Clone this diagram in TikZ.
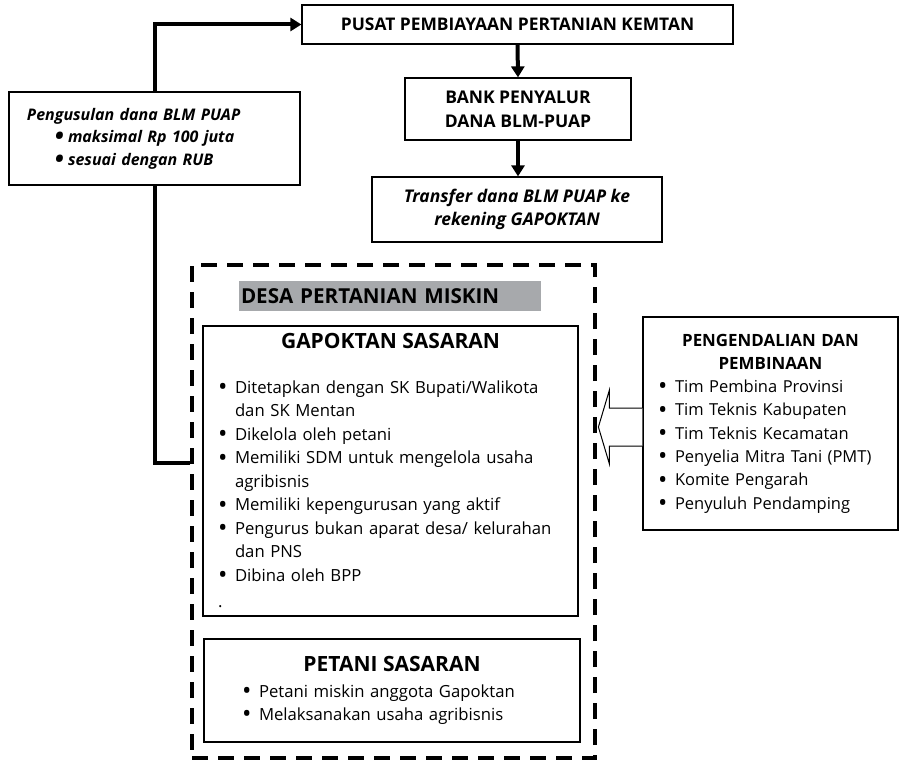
\documentclass[tikz,border=0pt]{standalone}
\usepackage{fontspec}
\setmainfont{Open Sans}
\usetikzlibrary{arrows.meta, positioning, calc, backgrounds}
\definecolor{bandgray}{HTML}{A7A9AC}
\tikzset{
  box/.style={rectangle, draw=black, line width=1.2pt, fill=white, inner ysep=0pt},
  listbox/.style={box, align=left, font=\fontsize{16.7}{23.5}\selectfont},
  thickarrow/.style={line width=4pt, -{Triangle[length=11pt,width=13pt]}},
  dashframe/.style={rectangle, draw=black, line width=4pt, dash pattern=on 16pt off 10pt},
  hollowarrow/.style={draw=black, line width=1pt, fill=white}
}
\newcommand{\dotmark}{\raisebox{-0.13em}{\scalebox{1.5}{\textbullet}}}
\newcommand{\bitem}[1][17pt]{\makebox[#1][l]{\dotmark}}
\newcommand{\bcont}[1][17pt]{\makebox[#1][l]{}}
\newcommand{\boxtitle}[1]{\makebox[\linewidth]{#1}}

\begin{document}
\begin{tikzpicture}[x=1pt, y=-1pt]
\useasboundingbox (0,0) rectangle (901,762);

% top chain
\node (pusat) [box, minimum width=431pt, minimum height=39pt, font=\fontsize{17.4}{20}\selectfont\bfseries] at (517.5,24.5) {PUSAT PEMBIAYAAN PERTANIAN KEMTAN};
\node (bank) [box, minimum width=226pt, minimum height=62pt, align=center, font=\fontsize{17.5}{24}\selectfont\bfseries] at (518,109) {BANK PENYALUR\\DANA BLM-PUAP};
\node (transfer) [box, minimum width=290pt, minimum height=65pt, align=center, font=\fontsize{17.5}{23}\selectfont\bfseries\itshape] at (517,209.5) {Transfer dana BLM PUAP ke\\rekening GAPOKTAN};

% proposal
\node (propose) [box, text width=255pt, inner xsep=18pt, minimum height=93pt, align=left, font=\fontsize{16}{22.5}\selectfont\bfseries\itshape] at (154.5,138.5)
  {Pengusulan dana BLM PUAP\\
   \hspace*{28pt}\bitem[13pt]maksimal Rp 100 juta\\
   \hspace*{28pt}\bitem[13pt]sesuai dengan RUB};

% village frame
\node (frame) [dashframe, minimum width=403pt, minimum height=493pt] at (393.5,511.5) {};
\node (desa) [fill=bandgray, minimum width=302pt, minimum height=30pt, text width=298pt, inner xsep=2pt, align=left, font=\fontsize{20.6}{24}\selectfont\bfseries] at (390,296) {DESA PERTANIAN MISKIN};

\node (gapoktan) [listbox, minimum height=290pt, text width=345pt, inner xsep=15pt] at (390.5,471)
  {\boxtitle{\fontsize{21}{24}\selectfont\bfseries GAPOKTAN SASARAN}\\[21pt]
   \bitem Ditetapkan dengan SK Bupati/Walikota\\
   \bcont dan SK Mentan\\
   \bitem Dikelola oleh petani\\
   \bitem Memiliki SDM untuk mengelola usaha\\
   \bcont agribisnis\\
   \bitem Memiliki kepengurusan yang aktif\\
   \bitem Pengurus bukan aparat desa/ kelurahan\\
   \bcont dan PNS\\
   \bitem Dibina oleh BPP\\[3pt]
   .};

\node (petani) [listbox, minimum height=103pt, text width=300pt, inner xsep=38pt] at (392,690.5)
  {\boxtitle{\fontsize{21}{24}\selectfont\bfseries PETANI SASARAN}\\[2pt]
   \bitem Petani miskin anggota Gapoktan\\
   \bitem Melaksanakan usaha agribisnis};

% control
\node (ctrl) [box, minimum width=255pt, minimum height=213pt, text width=225pt, inner xsep=15pt, align=left, font=\fontsize{16.5}{23.3}\selectfont] at (770.5,423.5)
  {\boxtitle{\fontsize{16.9}{18}\selectfont\bfseries PENGENDALIAN DAN}\\
   \boxtitle{\fontsize{16.9}{18}\selectfont\bfseries PEMBINAAN}\\
   \bitem Tim Pembina Provinsi\\
   \bitem Tim Teknis Kabupaten\\
   \bitem Tim Teknis Kecamatan\\
   \bitem Penyelia Mitra Tani (PMT)\\
   \bitem Komite Pengarah\\
   \bitem Penyuluh Pendamping};

% arrows
\draw [thickarrow] (pusat.south) -- (bank.north);
\draw [thickarrow] (bank.south) -- (bank.south |- transfer.north);

\coordinate (join) at (frame.west |- 0,463);
\begin{pgfonlayer}{background}
\draw [thickarrow] (join) -| (propose.center) |- (pusat.west);
\end{pgfonlayer}

\coordinate (tip) at ($(ctrl.west)+(-44,3.5)$);
\draw [hollowarrow] ($(ctrl.west)+(0,-15.5)$) -- ++(-33,0) -- ++(0,-18) -- (tip)
  -- ($(ctrl.west)+(-33,40.5)$) -- ++(0,-18) -- ($(ctrl.west)+(0,22.5)$);

\end{tikzpicture}
\end{document}
